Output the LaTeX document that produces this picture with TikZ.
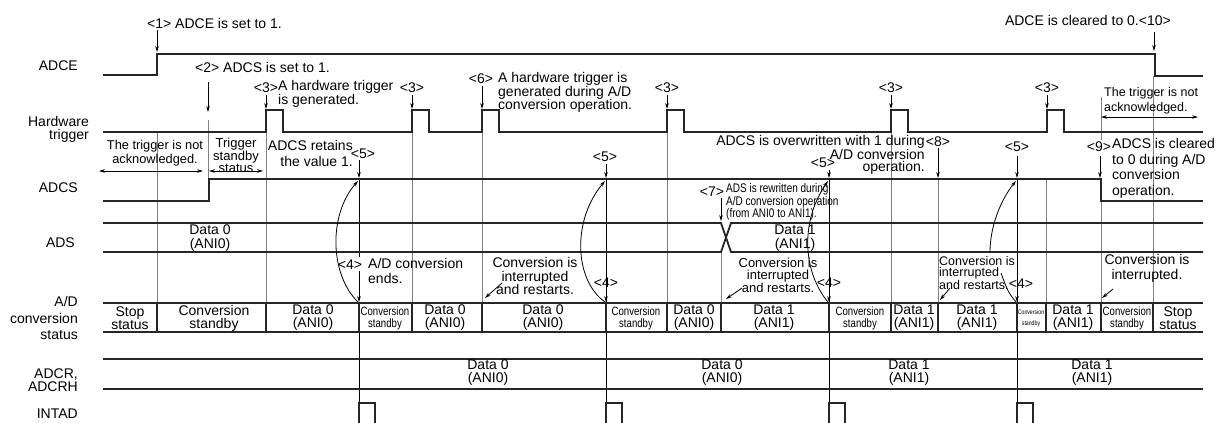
\documentclass[tikz,border=0pt]{standalone}
\usepackage{fontspec}
\setmainfont{Liberation Sans}
\newfontfamily\narrowfont[FakeStretch=0.8]{Liberation Sans}
\usetikzlibrary{arrows.meta}

\newcommand{\fsz}[2]{\fontsize{#1}{#2}\selectfont}

\begin{document}
\begin{tikzpicture}[x=1pt, y=-1pt, >={Stealth[length=6pt,width=3.6pt]},
    sig/.style={line width=1.8pt, black!85},
    guide/.style={line width=1pt, black!50},
    cut/.style={line width=0.9pt, black},
    arr/.style={->, line width=0.8pt, black},
    txt/.style={inner sep=0pt, font=\fsz{14}{15}},
    rowname/.style={txt, anchor=east, align=right},
    cell/.style={txt, align=center, font=\fsz{14}{13}},
    small/.style={inner sep=0pt, align=center, font=\narrowfont\fsz{12}{12}}]
  \fill[white] (0,0) rectangle (1216,423);
  \useasboundingbox (0,0) rectangle (1216,423);

  % signal names
  \node[rowname] (nADCE) at (78,66) {ADCE};
  \node[rowname, font=\fsz{14}{13}] (nHW) at (89,129) {Hardware\\trigger};
  \node[rowname] (nADCS) at (78,188) {ADCS};
  \node[rowname] (nADS) at (75,243) {ADS};
  \node[rowname, font=\fsz{14}{16.5}] (nSTAT) at (78,318) {A/D\\conversion\\status};
  \node[rowname, font=\fsz{14}{13}] (nADCR) at (78,380) {ADCR,\\ADCRH};
  \node[rowname] (nINT) at (78,414) {INTAD};

  % guide lines
  \foreach \t/\a in {157/132,266/132,412/132,482/132,667/132,891/132,938/179,1046/179,1101/201,1153/76,721/252}
    \draw[guide] (\t,\a) -- (\t,303);
  \draw[guide] (208,120) -- (208,179);
  \draw[guide] (1101,97) -- (1101,140);
  \foreach \t in {606,829,1017}
    \draw[cut] (\t,179) -- (\t,403);
  \draw[cut] (359,179) -- (359,257) (359,303) -- (359,403);

  % waveforms
  \draw[sig] (103,75) -- (157,75) -- (157,54) -- (1155,54) -- (1155,76) -- (1203,76);
  \draw[sig] (103,132) foreach \t in {266,412,482,667,891,1047} {-- (\t,132) -- (\t,110) -- (\t+17,110) -- (\t+17,132)} -- (1203,132);
  \draw[sig] (103,201) -- (209,201) -- (209,179) -- (1101,179) -- (1101,201) -- (1203,201);
  \draw[sig] (103,223) -- (721,223) -- (731,252) -- (1203,252);
  \draw[sig] (103,252) -- (721,252) -- (731,223) -- (1203,223);
  \draw[sig] (103,303) -- (1203,303) (103,332) -- (1203,332);
  \draw[sig] (103,359) -- (1203,359) (103,389) -- (1203,389);
  \foreach \t in {157,266,359,412,482,606,667,721,829,891,938,1017,1046,1101,1153}
    \draw[sig, line width=1.3pt] (\t,303) -- (\t,332);
  \foreach \t in {359,606,829,1017}
    \draw[sig] (\t,423) -- (\t,403) -- (\t+16,403) -- (\t+16,423);

  % status cells
  \foreach \x/\s in {130/{Stop\\status}, 214/{Conversion\\standby}, 313/{Data 0\\(ANI0)},
      445/{Data 0\\(ANI0)}, 543/{Data 0\\(ANI0)}, 694/{Data 0\\(ANI0)}, 774/{Data 1\\(ANI1)},
      914/{Data 1\\(ANI1)}, 977/{Data 1\\(ANI1)}, 1073/{Data 1\\(ANI1)}, 1178/{Stop\\status}}
    \node[cell] (st\x) at (\x,318) {\s};
  \foreach \x in {385,636,860,1127}
    \node[small] (st\x) at (\x,318) {Conversion\\standby};
  \node[small, font=\narrowfont\fsz{6.5}{11}] (st1031) at (1031,318) {Conversion\\standby};
  \foreach \x/\s in {488/{Data 0\\(ANI0)}, 722/{Data 0\\(ANI0)}, 909/{Data 1\\(ANI1)}, 1092/{Data 1\\(ANI1)}}
    \node[cell] (reg\x) at (\x,373) {\s};
  \node[cell, font=\fsz{14}{14.5}] (ads0) at (210,238) {Data 0\\(ANI0)};
  \node[cell, font=\fsz{14}{14.5}] (ads1) at (795,238) {Data 1\\(ANI1)};

  % annotations
  \node[txt, anchor=west] (e1) at (147,23) {<1> ADCE is set to 1.};
  \draw[arr] (157,30) -- (157,52);
  \node[txt, anchor=west] (e2) at (195,67) {<2> ADCS is set to 1.};
  \draw[arr] (208,82) -- (208,112);
  \foreach \t in {266,412,667,891,1047} {
    \node[txt] (e3-\t) at (\t,88) {<3>};
    \draw[arr] (\t,95) -- (\t,109);
  }
  \node[txt, anchor=west, align=left, font=\fsz{14}{12}] (e3txt) at (278,94) {A hardware trigger\\is generated.};
  \node[txt] (e6) at (481,79) {<6>};
  \node[txt, anchor=west, align=left, font=\fsz{14}{13.5}] (e6txt) at (498,92.5) {A hardware trigger is\\generated during A/D\\conversion operation.};
  \draw[arr] (482,86) -- (482,109);
  \node[txt, anchor=east] (e10) at (1171,20) {ADCE is cleared to 0.<10>};
  \draw[arr] (1154,32) -- (1154,51);

  \node[txt, align=center, font=\fsz{12.8}{14}] (na1) at (155,153) {The trigger is not\\acknowledged.};
  \draw[<->, line width=0.8pt] (99,171) -- (203,171);
  \node[txt, align=center, font=\fsz{13}{12}] (tsb) at (236,155) {Trigger\\standby\\status};
  \draw[<->, line width=0.8pt] (209,171) -- (263,171);
  \node[txt, anchor=west, align=left, font=\fsz{12.5}{14.5}] (na2) at (1104,101) {The trigger is not\\acknowledged.};
  \draw[<->, line width=0.8pt] (1101,117) -- (1198,117);

  \node[txt, anchor=east, align=right, font=\fsz{14}{16}] (ret) at (353,153) {ADCS retains\\the value 1.};
  \foreach \x/\y/\t/\a in {363/154/359/160, 605/157/606/164, 823/163/829/170, 1017/147/1017/156}
    \node[txt] (e5-\t) at (\x,\y) {<5>};
  \foreach \t/\a in {359/160,606/164,829/170,1017/156,938/148,1100/156}
    \draw[arr] (\t,\a) -- (\t,178);
  \node[txt, anchor=east, align=right, font=\fsz{14}{12.5}] (ow) at (925,155) {ADCS is overwritten with 1 during\\A/D conversion\\operation.};
  \node[txt] (e8) at (938,142) {<8>};
  \node[txt] (e9) at (1099,147) {<9>};
  \node[txt, anchor=west, align=left, font=\fsz{14}{15.5}] (e9txt) at (1112,168.5) {ADCS is cleared\\to 0 during A/D\\conversion\\operation.};
  \node[txt] (e7) at (712,192) {<7>};
  \node[small, anchor=west, align=left, font=\narrowfont\fsz{12.5}{12.5}] (e7txt) at (726,202) {ADS is rewritten during\\A/D conversion operation\\(from ANI0 to ANI1).};
  \draw[arr] (721,198) -- (721,221);

  % conversion end / restart
  \node[txt] (e4-359) at (350,265) {<4>};
  \node[txt, anchor=west, align=left, font=\fsz{14}{15}] (end1) at (368,271) {A/D conversion\\ends.};
  \draw[arr] (359,271) -- (359,302);
  \foreach \t/\x/\y in {606/606/283, 829/829/283, 1017/1021/284} {
    \node[txt] (e4-\t) at (\x,\y) {<4>};
    \draw[arr] (\t,290) -- (\t,302);
  }
  \node[txt, align=center, font=\fsz{14}{13.5}] (int1) at (535,276) {Conversion is\\interrupted\\and restarts.};
  \node[txt, align=center, font=\fsz{13}{12}] (int2) at (778,275) {Conversion is\\interrupted\\and restarts.};
  \node[txt, anchor=west, align=left, font=\fsz{12.5}{11.5}] (int3) at (939,273) {Conversion is\\interrupted\\and restarts.};
  \node[txt, align=center, font=\fsz{14}{15}] (int4) at (1147,268) {Conversion is\\interrupted.};
  \draw[arr] (502,283) -- (485,298);
  \draw[arr] (742,288) -- (726,299);
  \draw[arr] (950,288) -- (940,300);
  \draw[arr] (1113,289) -- (1102,298);

  \draw[arr] (358,302) .. controls (330,275) and (328,215) .. (358,181);
  \draw[arr] (605,302) .. controls (574,280) and (572,220) .. (605,181);
  \draw[arr] (828,302) .. controls (805,275) and (798,225) .. (828,181);
  \draw[line width=0.8pt] (1016,302) .. controls (1008,292) .. (1001,273);
  \draw[arr] (990,252) .. controls (990,225) and (1002,198) .. (1016,181);
\end{tikzpicture}
\end{document}
